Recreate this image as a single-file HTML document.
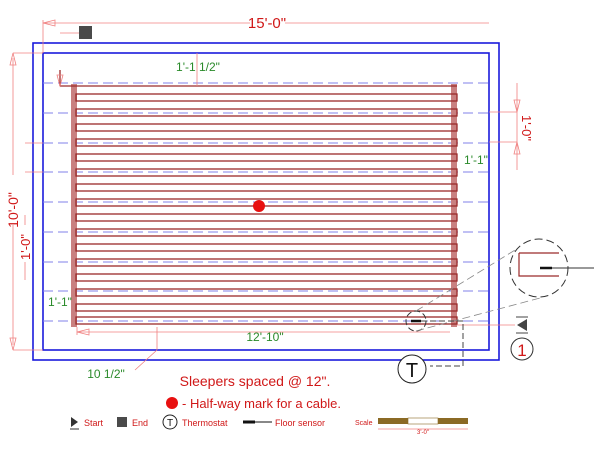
<!DOCTYPE html>
<html><head><style>body{margin:0;background:#fff}svg{display:block}text{font-family:"Liberation Sans",sans-serif}</style></head>
<body>
<svg width="600" height="450" viewBox="0 0 600 450" xmlns="http://www.w3.org/2000/svg">
<rect x="33" y="43" width="466" height="317" fill="none" stroke="#1a1adc" stroke-width="1.6"/>
<rect x="43" y="53" width="446" height="297" fill="none" stroke="#1a1adc" stroke-width="1.6"/>
<g stroke="#8080e8" stroke-width="1" stroke-dasharray="10,5">
<line x1="43" y1="83" x2="489" y2="83"/><line x1="43" y1="113" x2="489" y2="113"/>
<line x1="43" y1="143" x2="489" y2="143"/><line x1="43" y1="172" x2="489" y2="172"/>
<line x1="43" y1="202" x2="489" y2="202"/><line x1="43" y1="232" x2="489" y2="232"/>
<line x1="43" y1="262" x2="489" y2="262"/><line x1="43" y1="291" x2="489" y2="291"/>
<line x1="43" y1="321" x2="489" y2="321"/>
</g>
<rect x="71" y="84" width="6" height="243" fill="#c98080"/>
<rect x="451" y="84" width="6" height="243" fill="#c98080"/>
<g fill="none" stroke="#9a2a2a" stroke-width="1.3">
<line x1="60" y1="86" x2="457" y2="86"/>
<line x1="60" y1="70" x2="60" y2="86"/>
<rect x="76" y="94" width="381" height="7"/><rect x="76" y="109" width="381" height="7"/>
<rect x="76" y="124" width="381" height="7"/><rect x="76" y="139" width="381" height="7"/>
<rect x="76" y="154" width="381" height="7"/><rect x="76" y="169" width="381" height="7"/>
<rect x="76" y="184" width="381" height="7"/><rect x="76" y="199" width="381" height="7"/>
<rect x="76" y="214" width="381" height="7"/><rect x="76" y="229" width="381" height="7"/>
<rect x="76" y="244" width="381" height="7"/><rect x="76" y="259" width="381" height="7"/>
<rect x="76" y="274" width="381" height="7"/><rect x="76" y="289" width="381" height="7"/>
<rect x="76" y="304" width="381" height="7"/><rect x="76" y="317" width="381" height="7"/>
</g>
<g stroke="#f08080" stroke-width="0.8" fill="none">
<line x1="43" y1="23" x2="250" y2="23"/><line x1="285" y1="23" x2="489" y2="23"/>
<line x1="43" y1="20" x2="43" y2="53"/>
<line x1="13" y1="53" x2="43" y2="53"/><line x1="13" y1="350" x2="43" y2="350"/>
<line x1="13" y1="58" x2="13" y2="175"/><line x1="13" y1="225" x2="13" y2="345"/>
<line x1="25" y1="143" x2="43" y2="143"/><line x1="25" y1="172" x2="43" y2="172"/>
<line x1="25" y1="215" x2="25" y2="225"/><line x1="25" y1="262" x2="25" y2="280"/>
<line x1="197" y1="53" x2="197" y2="86"/>
<line x1="60" y1="33" x2="80" y2="33"/>
<line x1="77" y1="332" x2="450" y2="332"/><line x1="77" y1="327" x2="77" y2="335"/>
<line x1="157" y1="327" x2="157" y2="350"/><line x1="157" y1="350" x2="135" y2="370"/>
<line x1="489" y1="112" x2="517" y2="112"/><line x1="489" y1="142" x2="517" y2="142"/>
<line x1="517" y1="83" x2="517" y2="170"/>
<line x1="457" y1="325" x2="515" y2="325"/>
<path d="M43 23 L55 20 L55 26 Z M13 53 L10 65 L16 65 Z M13 350 L10 338 L16 338 Z M60 86 L57 75 L63 75 Z M517 112 L514 100 L520 100 Z M517 142 L514 154 L520 154 Z M77 332 L89 329 L89 335 Z"/>
</g>
<text x="267" y="28" font-size="15" fill="#d01818" text-anchor="middle">15'-0"</text>
<text x="18" y="210" font-size="14" fill="#d01818" text-anchor="middle" transform="rotate(-90 18 210)">10'-0"</text>
<text x="30" y="247" font-size="13" fill="#d01818" text-anchor="middle" transform="rotate(-90 30 247)">1'-0"</text>
<text x="522" y="128" font-size="13" fill="#d01818" text-anchor="middle" transform="rotate(90 522 128)">1'-0"</text>
<text x="198" y="71" font-size="12" fill="#2a8a2a" text-anchor="middle">1'-1 1/2"</text>
<text x="476" y="164" font-size="12" fill="#2a8a2a" text-anchor="middle">1'-1"</text>
<text x="60" y="306" font-size="12" fill="#2a8a2a" text-anchor="middle">1'-1"</text>
<text x="265" y="341" font-size="12" fill="#2a8a2a" text-anchor="middle">12'-10"</text>
<text x="106" y="378" font-size="12" fill="#2a8a2a" text-anchor="middle">10 1/2"</text>
<rect x="79" y="26" width="13" height="13" fill="#4a4a4a"/>
<circle cx="259" cy="206" r="6" fill="#e81010"/>
<circle cx="416" cy="321" r="10" fill="none" stroke="#333" stroke-dasharray="6,3"/>
<line x1="411" y1="321" x2="421" y2="321" stroke="#111" stroke-width="2.5"/>
<g stroke="#888" stroke-width="0.8" stroke-dasharray="8,4"><line x1="416" y1="311" x2="520" y2="247"/><line x1="416" y1="331" x2="540" y2="298"/></g>
<circle cx="539" cy="268" r="29" fill="#fff" stroke="#333" stroke-dasharray="8,4"/>
<path d="M519 253 H559 M519 253 V276 H559" fill="none" stroke="#9a2a2a" stroke-width="1.2"/>
<line x1="540" y1="268" x2="552" y2="268" stroke="#111" stroke-width="2.5"/>
<line x1="552" y1="268" x2="594" y2="268" stroke="#333"/>
<path d="M421 321 H463 V366 H430" fill="none" stroke="#444" stroke-dasharray="6,3"/>
<circle cx="412" cy="369" r="14" fill="#fff" stroke="#222"/>
<text x="412" y="377" font-size="20" fill="#111" text-anchor="middle">T</text>
<path d="M527 319 L517 325 L527 331 Z" fill="#444"/>
<line x1="516" y1="317" x2="528" y2="317" stroke="#444"/><line x1="516" y1="333" x2="528" y2="333" stroke="#444"/>
<circle cx="522" cy="349" r="11" fill="none" stroke="#333"/>
<text x="522" y="356" font-size="17" fill="#d01818" text-anchor="middle">1</text>
<text x="255" y="386" font-size="14" fill="#d01818" text-anchor="middle">Sleepers spaced @ 12".</text>
<circle cx="172" cy="403" r="6" fill="#e81010"/>
<text x="182" y="408" font-size="13" fill="#d01818">- Half-way mark for a cable.</text>
<path d="M71 417 L78 422 L71 427 Z" fill="#333"/><line x1="70" y1="429" x2="79" y2="429" stroke="#333"/>
<text x="84" y="426" font-size="9" fill="#d01818">Start</text>
<rect x="117" y="417" width="10" height="10" fill="#4a4a4a"/>
<text x="132" y="426" font-size="9" fill="#d01818">End</text>
<circle cx="170" cy="422" r="7" fill="none" stroke="#222"/>
<text x="170" y="426" font-size="10" fill="#111" text-anchor="middle">T</text>
<text x="182" y="426" font-size="9" fill="#d01818">Thermostat</text>
<line x1="243" y1="422" x2="255" y2="422" stroke="#111" stroke-width="3"/>
<line x1="255" y1="422" x2="272" y2="422" stroke="#111"/>
<text x="275" y="426" font-size="9" fill="#d01818">Floor sensor</text>
<text x="355" y="425" font-size="7" fill="#d01818">Scale</text>
<rect x="378" y="418" width="30" height="6" fill="#8b6a25"/>
<rect x="408" y="418" width="30" height="6" fill="#fff" stroke="#8b6a25" stroke-width="0.6"/>
<rect x="438" y="418" width="30" height="6" fill="#8b6a25"/>
<line x1="378" y1="429" x2="468" y2="429" stroke="#f08080" stroke-width="0.7"/>
<text x="423" y="434" font-size="6" fill="#d01818" text-anchor="middle">3'-0"</text>
</svg>
</body></html>
